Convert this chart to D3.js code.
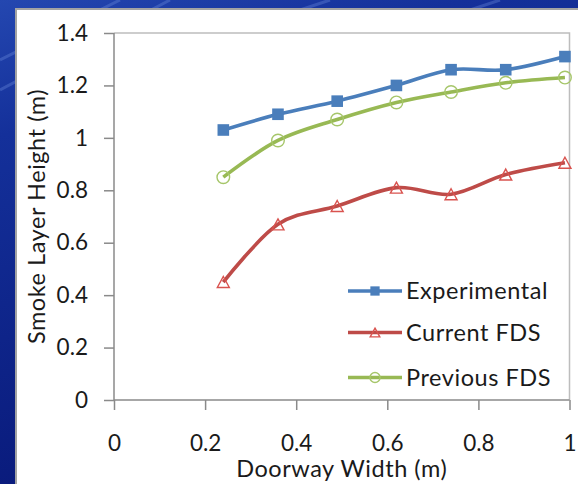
<!DOCTYPE html>
<html>
<head>
<meta charset="utf-8">
<script src="https://cdn.jsdelivr.net/npm/d3@7"></script>
<style>
  html, body { margin: 0; padding: 0; background: #0c1f86; }
  svg { display: block; }
  text { font-family: Lato, "Noto Sans", sans-serif; fill: #1a1a1a; }
</style>
</head>
<body>
<svg id="chart" width="578" height="484"></svg>
<script>
// Doorway width (m) for each test
const doorwayWidth = [0.24, 0.36, 0.49, 0.62, 0.74, 0.86, 0.99];
// Smoke layer height (m) per series
const experimental = [1.03, 1.09, 1.14, 1.20, 1.26, 1.26, 1.31];
const currentFDS   = [0.45, 0.67, 0.74, 0.81, 0.785, 0.86, 0.905];
const previousFDS  = [0.85, 0.99, 1.07, 1.135, 1.175, 1.21, 1.23];
const seriesNames  = ["Experimental", "Current FDS", "Previous FDS"];
// Axis ticks
const xTicks = [0, 0.2, 0.4, 0.6, 0.8, 1];
const yTicks = [0, 0.2, 0.4, 0.6, 0.8, 1, 1.2, 1.4];

const svg = d3.select("#chart");
const W = 578, H = 484;

// Slide backdrop
const defs = svg.append("defs");
const bg = defs.append("linearGradient").attr("id", "bg")
  .attr("x1", "0").attr("y1", "0").attr("x2", "0.35").attr("y2", "1");
bg.append("stop").attr("offset", "0").attr("stop-color", "#2447b0");
bg.append("stop").attr("offset", "0.25").attr("stop-color", "#14309a");
bg.append("stop").attr("offset", "1").attr("stop-color", "#081878");
svg.append("rect").attr("width", W).attr("height", H).attr("fill", "url(#bg)");
// faint diagonal streaks in the backdrop
[[0, 60, 120, 0], [0, 90, 170, 0], [300, 10, 330, 0], [470, 10, 500, 0]].forEach(s => {
  svg.append("line").attr("x1", s[0]).attr("y1", s[1]).attr("x2", s[2]).attr("y2", s[3])
    .attr("stroke", "#6f8fe0").attr("stroke-opacity", 0.35).attr("stroke-width", 3);
});

// White chart panel
svg.append("rect").attr("x", 16).attr("y", 9).attr("width", 600).attr("height", 500)
  .attr("fill", "#ffffff").attr("stroke", "#a3a3a3").attr("stroke-width", 2);

const x = d3.scaleLinear().domain([0, 1]).range([114, 569.5]);
const y = d3.scaleLinear().domain([0, 1.4]).range([400, 33]);
const fmt = d3.format("~g");

// Plot area frame (top and right)
svg.append("path")
  .attr("d", `M${x(0)},${y(1.4)}H${x(1)}V${y(0)}`)
  .attr("fill", "none").attr("stroke", "#bdbdbd").attr("stroke-width", 1.5);

// Axes
const yAxis = svg.append("g").attr("transform", `translate(${x(0)},0)`)
  .call(d3.axisLeft(y).tickValues(yTicks).tickFormat(fmt).tickSize(10).tickPadding(16));
const xAxis = svg.append("g").attr("transform", `translate(0,${y(0)})`)
  .call(d3.axisBottom(x).tickValues(xTicks).tickFormat(fmt).tickSize(10).tickPadding(25));
[yAxis, xAxis].forEach(g => {
  g.select(".domain").attr("stroke", "#8a8a8a").attr("stroke-width", 1.5);
  g.selectAll(".tick line").attr("stroke", "#8a8a8a").attr("stroke-width", 1.5);
  g.selectAll(".tick text").attr("font-size", 22.5).attr("fill", "#1a1a1a")
    .style("font-family", "Lato, 'Noto Sans', sans-serif");
});
yAxis.select(".domain").attr("d", `M0,${y(1.4)}V${y(0)}`);
xAxis.select(".domain").attr("d", `M${x(0)},0H${x(1)}`);

// Axis titles
const labelStyle = sel => sel.attr("font-size", 23.5).attr("letter-spacing", 0.55);
svg.append("text").attr("x", (x(0) + x(1)) / 2).attr("y", 477)
  .attr("text-anchor", "middle").call(labelStyle).text("Doorway Width (m)");
svg.append("text")
  .attr("transform", `translate(45,${(y(0) + y(1.4)) / 2}) rotate(-90)`)
  .attr("text-anchor", "middle").call(labelStyle).text("Smoke Layer Height (m)");

// Series
const series = [
  { name: seriesNames[0], values: experimental, color: "#4a7ebb", marker: "square" },
  { name: seriesNames[1], values: currentFDS,   color: "#be4b48", marker: "triangle" },
  { name: seriesNames[2], values: previousFDS,  color: "#98b954", marker: "circle" }
];

const line = d3.line().curve(d3.curveCardinal.tension(0))
  .x(d => x(d[0])).y(d => y(d[1]));

function drawMarker(g, kind, cx, cy, color, scale) {
  const s = scale || 1;
  if (kind === "square") {
    const h = 5.8 * s;
    g.append("rect").attr("x", cx - h).attr("y", cy - h).attr("width", 2 * h).attr("height", 2 * h)
      .attr("fill", color);
  } else if (kind === "triangle") {
    const w = 6 * s, t = 5.5 * s;
    g.append("path").attr("d", `M${cx},${cy - t}L${cx + w},${cy + t}L${cx - w},${cy + t}Z`)
      .attr("fill", "none").attr("stroke", color).attr("stroke-width", 1.4);
  } else {
    g.append("circle").attr("cx", cx).attr("cy", cy).attr("r", 6.3 * s)
      .attr("fill", "none").attr("stroke", color).attr("stroke-width", 1.4);
  }
}

const markerColor = { square: "#4a7ebb", triangle: "#d9534f", circle: "#a6c66a" };

series.forEach(s => {
  const pts = doorwayWidth.map((w, i) => [w, s.values[i]]);
  svg.append("path").attr("d", line(pts)).attr("fill", "none")
    .attr("stroke", s.color).attr("stroke-width", 3.6).attr("stroke-linejoin", "round");
  const g = svg.append("g");
  pts.forEach(p => drawMarker(g, s.marker, x(p[0]), y(p[1]), markerColor[s.marker]));
});

// Legend
const legendRows = [291, 332.5, 377.5];
series.forEach((s, i) => {
  const ly = legendRows[i];
  svg.append("line").attr("x1", 348).attr("x2", 402).attr("y1", ly).attr("y2", ly)
    .attr("stroke", s.color).attr("stroke-width", 3.6);
  drawMarker(svg.append("g"), s.marker, 375, ly, markerColor[s.marker], 0.8);
  svg.append("text").attr("x", 406).attr("y", ly).attr("dy", "0.35em")
    .call(labelStyle).text(s.name);
});
</script>
</body>
</html>
